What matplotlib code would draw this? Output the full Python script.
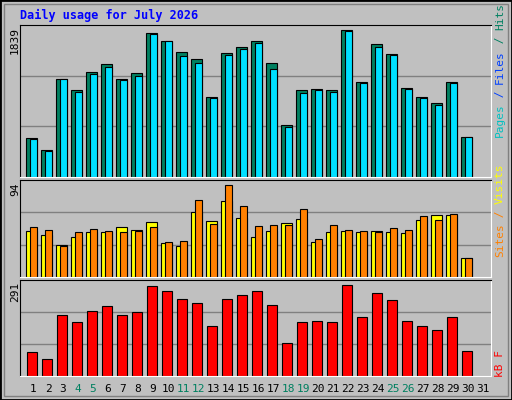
import matplotlib.pyplot as plt
from matplotlib.patches import Rectangle
import numpy as np

days = list(range(1, 32))
hits = [491, 341, 1227, 1090, 1315, 1415, 1227, 1302, 1801, 1702, 1564, 1477, 1003, 1552, 1627,
        1702, 1427, 653, 1090, 1102, 1090, 1839, 1190, 1664, 1539, 1115, 1003, 928, 1190, 503]
files = [478, 329, 1227, 1065, 1290, 1377, 1215, 1265, 1789, 1702, 1514, 1427, 990, 1527, 1602,
         1677, 1352, 628, 1053, 1090, 1065, 1826, 1177, 1627, 1527, 1102, 990, 903, 1177, 503]
visits = [47, 43, 33, 41, 46, 46, 51, 48, 56, 35, 32, 66, 57, 77, 60,
          41, 47, 55, 59, 36, 46, 47, 46, 47, 46, 45, 58, 63, 63, 19]
sites = [51, 48, 32, 46, 49, 47, 46, 47, 51, 36, 37, 78, 54, 94, 72,
         52, 53, 53, 69, 39, 53, 48, 47, 46, 50, 48, 62, 58, 64, 19]
kbytes = [77, 54, 195, 173, 208, 224, 195, 205, 285, 272, 246, 233, 160, 246, 259,
          269, 227, 106, 173, 176, 173, 291, 189, 265, 243, 176, 160, 147, 189, 80]
weekend_days = [4, 5, 11, 12, 18, 19, 25, 26]

BG = "#C0C0C0"
W, H = 512, 400
fig = plt.figure(figsize=(W / 100, H / 100), dpi=100, facecolor=BG)
mono = "DejaVu Sans Mono"


def px_axes(x0, y0, x1, y1):
    return fig.add_axes([x0 / W, 1 - y1 / H, (x1 - x0) / W, (y1 - y0) / H])


def ftext(x, y, s, **kw):
    fig.text(x / W, 1 - y / H, s, family=mono, **kw)


# outer frame
fig.patches.append(Rectangle((0, 0), 1, 1, transform=fig.transFigure, fill=False,
                             edgecolor="black", lw=2))
fig.patches.append(Rectangle((4 / W, 4 / H), 1 - 8 / W, 1 - 8 / H, transform=fig.transFigure,
                             fill=False, edgecolor="#808080", lw=1))

ftext(20, 15, "Daily usage for July 2026", color="#0000FF", fontsize=8.5,
      fontweight="bold", va="center")

panels = [(25, 177), (180, 277), (280, 376)]
x = np.array(days[:len(hits)])
axes = []
for (y0, y1) in panels:
    ax = px_axes(20, y0, 491, y1)
    ax.set_facecolor(BG)
    ax.set_xlim(0.133, 31.53)
    ax.set_xticks([])
    ax.set_yticks([])
    for s in ("top", "left"):
        ax.spines[s].set_color("black")
    for s in ("bottom", "right"):
        ax.spines[s].set_color("white")
    axes.append(ax)


def setup(ax, vmax, factor):
    top = vmax * factor
    ax.set_ylim(0, top)
    for g in (top / 3, 2 * top / 3):
        ax.axhline(g, color="#808080", lw=1, zorder=0)


ax1, ax2, ax3 = axes
setup(ax1, max(hits), 1.035)
ax1.bar(x - 0.49, hits, width=0.73, align="edge", color="#008060", edgecolor="black", lw=0.8)
ax1.bar(x - 0.22, files, width=0.47, align="edge", color="#00E0FF", edgecolor="black", lw=0.8)

setup(ax2, max(sites), 1.05)
ax2.bar(x - 0.49, visits, width=0.73, align="edge", color="#FFFF00", edgecolor="black", lw=0.8)
ax2.bar(x - 0.22, sites, width=0.47, align="edge", color="#FF8000", edgecolor="black", lw=0.8)

setup(ax3, max(kbytes), 1.05)
ax3.bar(x - 0.42, kbytes, width=0.67, align="edge", color="#FF0000", edgecolor="black", lw=0.8)

# max labels
for (y0, _), v in zip(panels, [max(hits), max(sites), max(kbytes)]):
    ftext(15, y0 + 2, str(v), rotation=90, ha="center", va="top", fontsize=8)

# right side legends, stacked bottom-to-top
cw = 6.67


def vlegend(ybottom, parts):
    y = ybottom
    for s, c in parts:
        ftext(500, y, s, rotation=90, ha="center", va="bottom", color=c, fontsize=8)
        y -= cw * len(s)


vlegend(137, [("Pages", "#00C0C0"), (" / ", "#0040FF"), ("Files", "#0040FF"),
              (" / ", "#008060"), ("Hits", "#008060")])
vlegend(257, [("Sites", "#FF8000"), (" / ", "#FF8000"), ("Visits", "#FFFF00")])
vlegend(377, [("kB F", "#FF0000")])

# day labels
for d in days:
    xp = 20 + (d - 0.133) * 15
    col = "#008060" if d in weekend_days else "black"
    ftext(xp, 389, str(d), ha="center", va="center", color=col, fontsize=8)

fig.savefig("out.png", dpi=100, facecolor=BG)
